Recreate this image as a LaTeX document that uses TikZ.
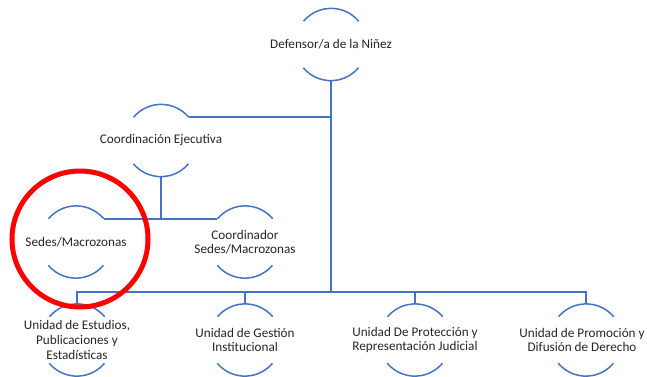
\documentclass[tikz,border=0pt]{standalone}
\usepackage{fontspec}
\setmainfont{Carlito}
\definecolor{lineblue}{HTML}{4472C4}
\definecolor{txt}{HTML}{262626}
\tikzset{
  x=1pt,y=-1pt,
  holder/.style={circle,minimum size=72pt,inner sep=0pt,draw=none},
  lbl/.style={align=center,text=txt,font=\fontsize{13.2}{14.6}\selectfont,inner sep=0pt},
  arcline/.style={draw=lineblue,line width=1.5pt},
  conn/.style={draw=lineblue,line width=2pt},
  redring/.style={draw=red,line width=5pt}
}
\newcommand{\orgnode}[4][0]{%
  \node[holder] (#2) at (#3) {};
  \node[lbl,xshift=#1pt] (#2t) at (#2.center) {#4};
  \draw[arcline] (#2.40) arc[start angle=40,end angle=140,radius=36pt];
  \draw[arcline] (#2.220) arc[start angle=220,end angle=320,radius=36pt];
}
\begin{document}
\begin{tikzpicture}
\useasboundingbox (0,0) rectangle (647,376);
\orgnode{d}{331,44.5}{Defensor/a de la Niñez}
\orgnode{c}{161,140.5}{Coordinación Ejecutiva}
\orgnode{s}{76,242}{Sedes/Macrozonas}
\orgnode{k}{245,242}{Coordinador\\Sedes/Macrozonas}
\orgnode{ua}{77,340}{Unidad de Estudios,\\Publicaciones y\\Estadísticas}
\orgnode{ub}{245,340}{Unidad de Gestión\\Institucional}
\orgnode{uc}{415,340}{Unidad De Protección y\\Representación Judicial}
\orgnode[-4]{ud}{586,340}{Unidad de Promoción y\\Difusión de Derecho}
\coordinate (bar) at (331,292);
% main trunk
\draw[conn] (d.south) -- (d.south |- bar);
\draw[conn] (c.40) -- (d.south |- c.40);
\draw[conn] (c.south) -- (c.south |- s.40);
\draw[conn] (s.40) -- (k.140);
\draw[conn] (ua.north) -- (ua.north |- bar) -- (ud.north |- bar) -- (ud.north);
\draw[conn] (ub.north) -- (ub.north |- bar);
\draw[conn] (uc.north) -- (uc.north |- bar);
% highlight
\node[redring,circle,minimum size=136pt,inner sep=0pt] (hl) at (80,239) {};
\end{tikzpicture}
\end{document}
